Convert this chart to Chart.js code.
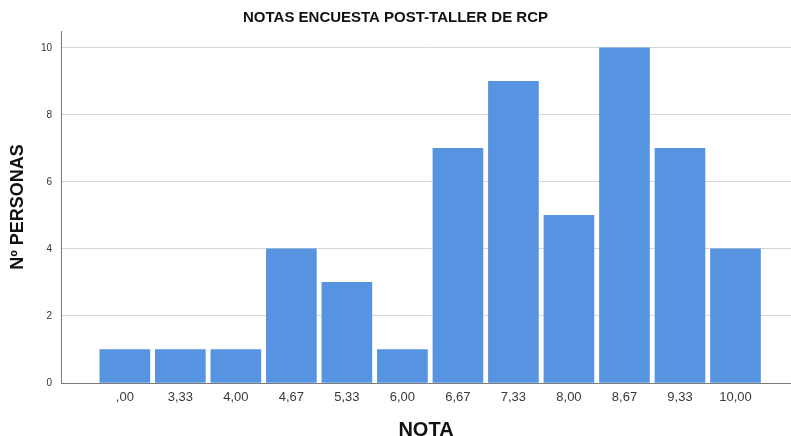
<!DOCTYPE html>
<html>
<head>
<meta charset="utf-8">
<script src="https://cdn.jsdelivr.net/npm/chart.js@4.4.1/dist/chart.umd.min.js"></script>
<style>
html,body{margin:0;padding:0;background:#fff;}
#wrap{width:791px;height:436px;position:relative;}
</style>
</head>
<body>
<div id="wrap"><canvas id="c" width="791" height="436"></canvas></div>
<script>
const categories = [",00","3,33","4,00","4,67","5,33","6,00","6,67","7,33","8,00","8,67","9,33","10,00"];
const counts = [1,1,1,4,3,1,7,9,5,10,7,4];
const yTicks = [0,2,4,6,8,10];
const chartTitle = "NOTAS ENCUESTA POST-TALLER DE RCP";
const xTitle = "NOTA";
const yTitle = "Nº PERSONAS";

const FONT = "'Liberation Sans', Arial, sans-serif";
const points = categories.map((c,i)=>({x:i,y:counts[i]}));

new Chart(document.getElementById('c'), {
  type: 'bar',
  data: {
    datasets: [{
      data: points,
      backgroundColor: '#5694E2',
      borderWidth: 0,
      barThickness: 50
    }]
  },
  options: {
    responsive: false,
    animation: false,
    devicePixelRatio: 1,
    layout: {padding: {left:0,right:0,top:0,bottom:0}},
    plugins: {
      legend: {display:false},
      tooltip: {enabled:false},
      title: {
        display: true,
        text: chartTitle,
        color: '#111',
        font: {family: FONT, size: 15, weight: 'bold', lineHeight: 1.2},
        padding: {top: 9, bottom: 4}
      }
    },
    scales: {
      x: {
        type: 'linear',
        offset: false,
        min: -1.15,
        max: 12.0,
        afterBuildTicks: (s) => { s.ticks = categories.map((_,i)=>({value:i})); },
        afterFit: (s) => { s.height = 53; },
        grid: {display:false, drawTicks:false},
        border: {display:true, color:'#7a7a7a', width:1},
        ticks: {
          autoSkip: false,
          maxRotation: 0,
          padding: 7,
          color: '#3a3a3a',
          font: {family: FONT, size: 13},
          callback: (v) => categories[v] !== undefined ? categories[v] : ''
        },
        title: {
          display: true,
          text: xTitle,
          color: '#111',
          font: {family: FONT, size: 20, weight: 'bold', lineHeight: 0.6},
          padding: {top:0,bottom:0}
        }
      },
      y: {
        min: 0,
        max: 10.5,
        afterBuildTicks: (s) => { s.ticks = yTicks.map(v=>({value:v})); },
        afterFit: (s) => { s.width = 61; },
        grid: {color:'#d6d6d6', lineWidth:1, drawTicks:false},
        border: {display:true, color:'#7a7a7a', width:1},
        ticks: {
          padding: 9,
          color: '#333',
          font: {family: FONT, size: 10}
        },
        title: {
          display: true,
          text: yTitle,
          color: '#111',
          font: {family: FONT, size: 18, weight: 'bold', lineHeight: 1.2},
          padding: {top:7,bottom:0}
        }
      }
    }
  }
});
</script>
</body>
</html>
